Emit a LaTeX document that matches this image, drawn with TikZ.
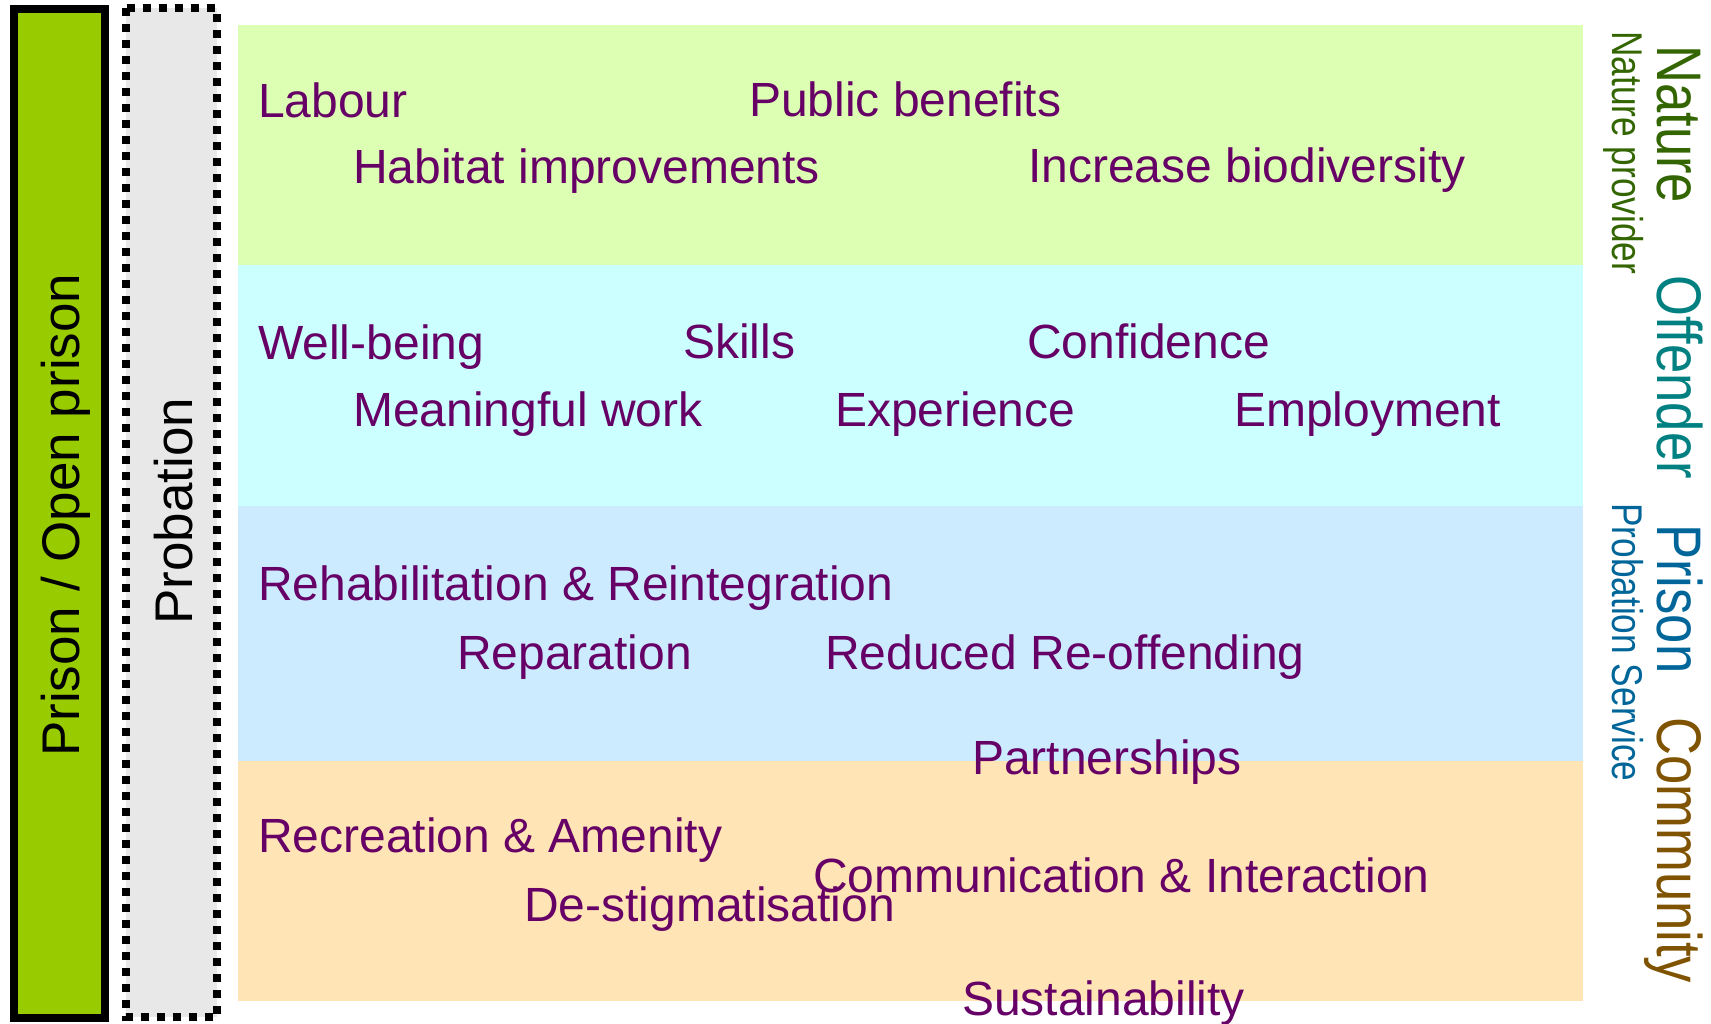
\documentclass[tikz,border=0pt]{standalone}
\usepackage{fontspec}
\setmainfont{Liberation Sans}
\definecolor{purp}{HTML}{660066}
\definecolor{barGreen}{HTML}{99CC00}
\definecolor{barGray}{HTML}{E8E8E8}
\definecolor{bandNature}{HTML}{DDFFB3}
\definecolor{bandOffender}{HTML}{CCFFFF}
\definecolor{bandPrison}{HTML}{CCEBFF}
\definecolor{bandCommunity}{HTML}{FFE4B5}
\definecolor{colNature}{HTML}{336600}
\definecolor{colOffender}{HTML}{008080}
\definecolor{colPrison}{HTML}{006699}
\definecolor{colCommunity}{HTML}{805300}
\begin{document}
\begin{tikzpicture}[x=1pt,y=-1pt,
  txt/.style={anchor=base west, inner sep=0pt, text=purp, font=\fontsize{48}{58}\selectfont},
  bartxt/.style={anchor=base west, inner sep=0pt, rotate=90, text=black, font=\fontsize{53}{63}\selectfont},
  biglab/.style={anchor=base west, inner sep=0pt, rotate=-90, font=\fontsize{63}{75}\selectfont},
  smalllab/.style={anchor=base west, inner sep=0pt, rotate=-90, font=\fontsize{43}{52}\selectfont}]
\useasboundingbox (0,0) rectangle (1711,1023);
\fill[white] (0,0) rectangle (1711,1023);
% bands
\fill[bandNature] (238,25) rectangle (1583,265);
\fill[bandOffender] (238,265) rectangle (1583,506);
\fill[bandPrison] (238,506) rectangle (1583,761);
\fill[bandCommunity] (238,761) rectangle (1583,1001);
% left bars
\draw[fill=barGreen, line width=8pt] (14,9) rectangle (105,1018);
\draw[fill=barGray, line width=8pt, dash pattern=on 8pt off 8pt] (125.5,8) rectangle (217,1017);
\node[bartxt] (prison) at (79,757) {Prison / Open prison};
\node[bartxt] (probation) at (192,625) {Probation};
% band texts
\node[txt] (labour) at (258,117) {Labour};
\node[txt] (public) at (749,116) {Public benefits};
\node[txt] (habitat) at (353,183) {Habitat improvements};
\node[txt] (biodiv) at (1028,182) {Increase biodiversity};
\node[txt] (wellbeing) at (258,359) {Well-being};
\node[txt] (skills) at (683,358) {Skills};
\node[txt] (confidence) at (1027,358) {Confidence};
\node[txt] (meaningful) at (353,426) {Meaningful work};
\node[txt] (experience) at (835,426) {Experience};
\node[txt] (employment) at (1234,426) {Employment};
\node[txt] (rehab) at (258,600) {Rehabilitation \& Reintegration};
\node[txt] (reparation) at (457,669) {Reparation};
\node[txt] (reduced) at (825,669) {Reduced Re-offending};
\node[txt] (partner) at (972,774) {Partnerships};
\node[txt] (recreation) at (258,852) {Recreation \& Amenity};
\node[txt] (comm) at (813,892) {Communication \& Interaction};
\node[txt] (destig) at (524,921) {De-stigmatisation};
\node[txt] (sustain) at (962,1015) {Sustainability};
% right labels
\node[biglab, text=colNature] (nature) at (1657,45) {\scalebox{0.835}[1]{Nature}};
\node[biglab, text=colOffender] (offender) at (1657,275) {\scalebox{0.835}[1]{Offender}};
\node[biglab, text=colPrison] (prisonlab) at (1657,524) {\scalebox{0.835}[1]{Prison}};
\node[biglab, text=colCommunity] (community) at (1657,717) {\scalebox{0.835}[1]{Community}};
\node[smalllab, text=colNature] (natprov) at (1612,31) {\scalebox{0.82}[1]{Nature provider}};
\node[smalllab, text=colPrison] (probserv) at (1612,503) {\scalebox{0.82}[1]{Probation Service}};
\end{tikzpicture}
\end{document}
